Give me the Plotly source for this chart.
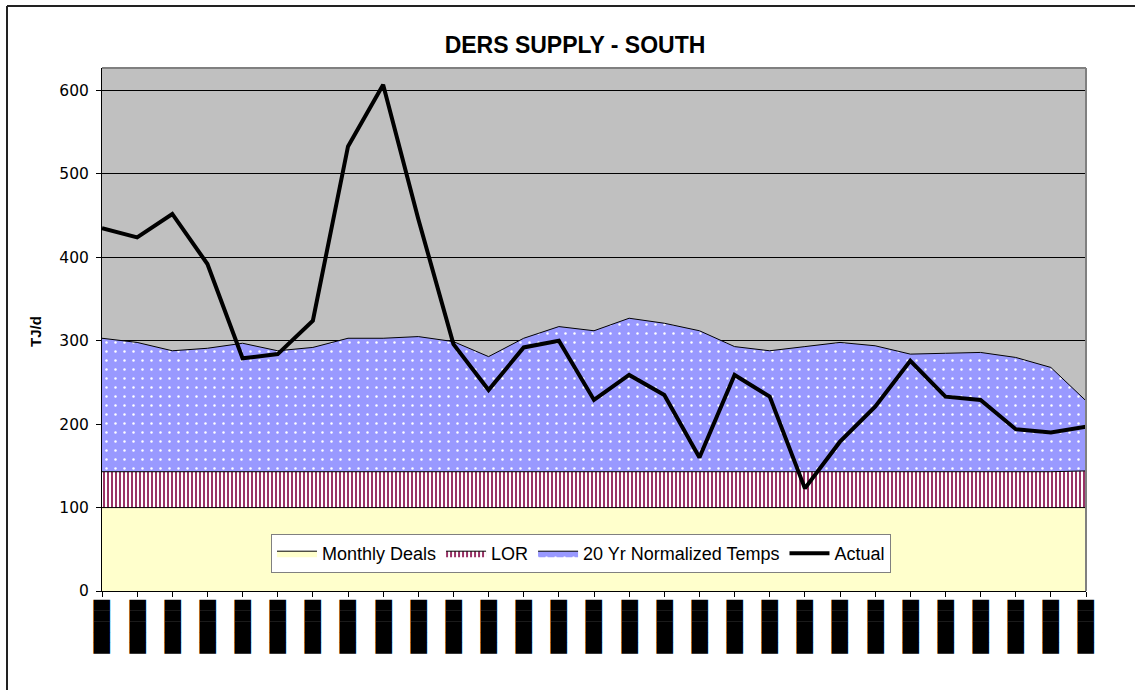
import plotly.graph_objects as go

# ---- data ----
x_index = list(range(29))
x_labels = ["█████"] * 29  # redacted date labels appear as black bars
monthly_deals = [100] * 29
lor = [43] * 28 + [44]
normalized_temps = [160, 155, 145, 148, 154, 145, 149, 160, 160, 162, 156, 138, 160, 174, 169,
                    184, 178, 169, 150, 145, 150, 155, 151, 141, 142, 143, 137, 125, 84]
actual = [435, 424, 452, 392, 279, 284, 324, 533, 607, 446, 296, 241, 292, 300, 229,
          259, 235, 160, 259, 233, 123, 179, 221, 276, 233, 229, 194, 190, 197]
y_ticks = [0, 100, 200, 300, 400, 500, 600]

FONT = "Liberation Sans, Arial, sans-serif"
TICKFONT = "DejaVu Sans, Verdana, sans-serif"

fig = go.Figure()
fig.add_trace(go.Scatter(
    x=x_index, y=monthly_deals, name="Monthly Deals", stackgroup="one", mode="lines",
    line=dict(color="black", width=1), fillcolor="#FFFFCC"))
fig.add_trace(go.Scatter(
    x=x_index, y=lor, name="LOR", stackgroup="one", mode="lines",
    line=dict(color="black", width=1), fillcolor="#993366",
    fillpattern=dict(shape="|", fgcolor="#993366", fgopacity=1, bgcolor="#FFFFFF",
                     size=4, solidity=0.5)))
fig.add_trace(go.Scatter(
    x=x_index, y=normalized_temps, name="20 Yr Normalized Temps", stackgroup="one", mode="lines",
    line=dict(color="black", width=1), fillcolor="#9999FF",
    fillpattern=dict(shape=".", fgcolor="#FFFFFF", fgopacity=1, bgcolor="#9999FF",
                     size=9, solidity=0.06)))
fig.add_trace(go.Scatter(
    x=x_index, y=actual, name="Actual", mode="lines",
    line=dict(color="black", width=4)))

# plot area geometry in px, used to place decorations in paper coords
L, R, T, B = 102, 1086, 68, 591
W, H = R - L, B - T


def px_x(px):
    return (px - L) / W


def px_y(py):
    return (B - py) / H


fig.update_layout(
    width=1135, height=690,
    margin=dict(l=L, r=1135 - R, t=T, b=690 - B),
    paper_bgcolor="white", plot_bgcolor="#C0C0C0",
    font=dict(family=FONT, size=15, color="black"),
    title=dict(text="<b>DERS SUPPLY - SOUTH</b>", x=575 / 1135, xanchor="center",
               y=1 - 45 / 690, yanchor="middle", font=dict(size=23, family=FONT)),
    showlegend=True,
    legend=dict(orientation="h", x=px_x(581), xanchor="center", y=px_y(573), yanchor="bottom",
                bgcolor="white", bordercolor="#808080", borderwidth=1,
                font=dict(size=18, family=FONT), traceorder="normal",
                itemwidth=40, tracegroupgap=0),
    xaxis=dict(range=[0, 28], tickmode="array", tickvals=x_index, ticktext=x_labels,
               tickangle=90, ticks="outside", ticklen=5, tickcolor="black",
               tickfont=dict(family="DejaVu Sans", size=14, color="black"),
               showgrid=False, showline=True, linecolor="black", linewidth=1, zeroline=False),
    yaxis=dict(range=[0, 627], tickmode="array", tickvals=y_ticks, ticks="outside", ticklen=5,
               tickcolor="black", showgrid=True, gridcolor="black", gridwidth=1,
               showline=True, linecolor="black", linewidth=1, zeroline=False,
               ticklabelstandoff=4,
               tickfont=dict(size=15.5, family=TICKFONT)),
    annotations=[dict(text="<b>TJ/d</b>", textangle=-90, xref="paper", yref="paper",
                      x=px_x(35), y=px_y(332), xanchor="center", yanchor="middle",
                      showarrow=False, font=dict(size=15, family=FONT))],
    shapes=[
        # top and right plot-area border (grey)
        dict(type="line", xref="paper", yref="paper", x0=0, x1=1, y0=1, y1=1,
             line=dict(color="#808080", width=2), layer="above"),
        dict(type="line", xref="paper", yref="paper", x0=1, x1=1, y0=0, y1=1,
             line=dict(color="#808080", width=2), layer="above"),
        # outer chart frame (left and top edges visible)
        dict(type="line", xref="paper", yref="paper", x0=px_x(7), x1=px_x(7),
             y0=px_y(6), y1=px_y(700), line=dict(color="#222222", width=2)),
        dict(type="line", xref="paper", yref="paper", x0=px_x(7), x1=px_x(1140),
             y0=px_y(6), y1=px_y(6), line=dict(color="#222222", width=2)),
    ],
)

fig.write_html("out.html", config={"displayModeBar": False},
               post_script="document.body.style.margin='0px';")
